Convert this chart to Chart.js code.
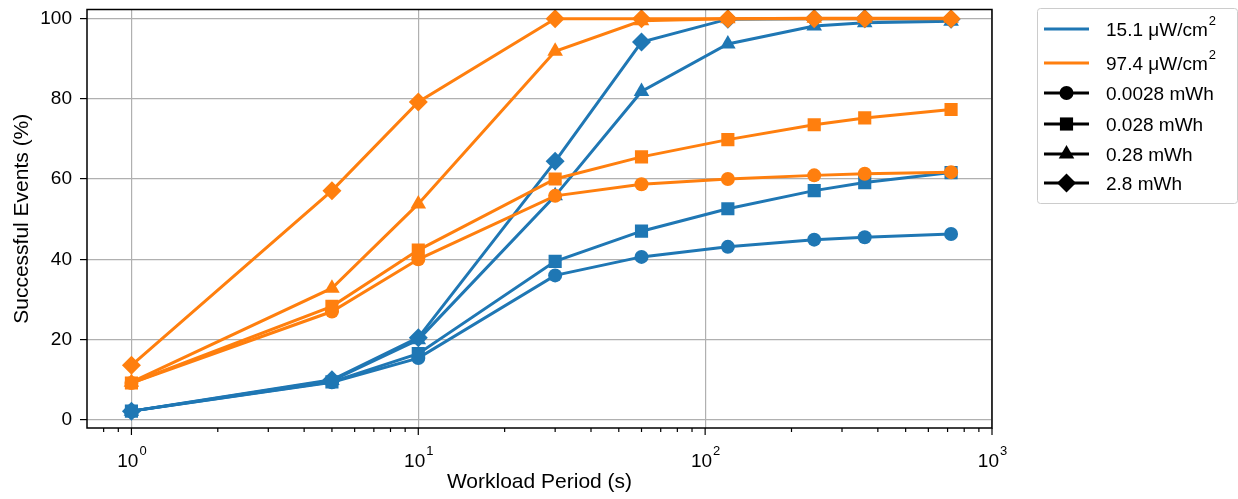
<!DOCTYPE html>
<html>
<head>
<meta charset="utf-8">
<script src="https://cdn.jsdelivr.net/npm/chart.js@4/dist/chart.umd.min.js"></script>
<style>
  html, body { margin: 0; padding: 0; background: #fff; }
  #wrap { width: 1238px; height: 499px; }
</style>
</head>
<body>
<div id="wrap"><canvas id="chart" width="1238" height="499"></canvas></div>
<script>
  // workload periods (s)
  const periods = [1, 5, 10, 30, 60, 120, 240, 360, 720];

  // 15.1 uW/cm2 series
  const low0028 = [2.2, 9.4, 15.4, 36.0, 40.6, 43.1, 44.9, 45.5, 46.3];
  const low028 = [2.2, 9.5, 16.5, 39.5, 47.0, 52.6, 57.1, 59.1, 61.6];
  const low28 = [2.2, 9.8, 20.0, 55.8, 81.8, 93.6, 98.1, 98.9, 99.3];
  const low280 = [2.2, 10.0, 20.5, 64.4, 94.1, 99.8, 99.9, 99.9, 99.8];

  // 97.4 uW/cm2 series
  const high0028 = [9.2, 27.0, 40.0, 55.8, 58.7, 60.0, 60.9, 61.3, 61.7];
  const high028 = [9.2, 28.3, 42.3, 60.0, 65.5, 69.8, 73.5, 75.2, 77.3];
  const high28 = [9.4, 32.8, 53.8, 91.8, 99.4, 99.9, 100, 100, 100];
  const high280 = [13.6, 57.1, 79.2, 99.9, 99.9, 99.9, 99.9, 99.9, 99.9];

  const powerNames = ["15.1 μW/cm", "97.4 μW/cm"];
  const energyNames = ["0.0028 mWh", "0.028 mWh", "0.28 mWh", "2.8 mWh"];
  const yTicks = [0, 20, 40, 60, 80, 100];
  const xDecades = [0, 1, 2, 3];

  const colors = ["#1f77b4", "#ff7f0e"];
  const markers = ["circle", "rect", "triangle", "rectRot"];
  const markerSize = [7, 9.3, 9, 9.5];

  const seriesByPower = [
    [low0028, low028, low28, low280],
    [high0028, high028, high28, high280]
  ];

  const FONT = "'Liberation Sans', Arial, sans-serif";

  let datasets = [];
  let n = 0;
  seriesByPower.forEach((group, p) => {
    group.forEach((vals, e) => {
      datasets.push({
        label: powerNames[p] + "2, " + energyNames[e],
        data: periods.map((x, i) => ({ x: x, y: vals[i] })),
        borderColor: colors[p],
        backgroundColor: colors[p],
        borderWidth: 3,
        pointStyle: markers[e],
        pointRadius: markerSize[e],
        pointBorderWidth: 0,
        pointHoverRadius: markerSize[e],
        tension: 0,
        order: 100 - n
      });
      n++;
    });
  });

  // draw one marker shape at (x, y)
  function marker(ctx, style, r, x, y) {
    ctx.beginPath();
    if (style === "circle") {
      ctx.arc(x, y, r, 0, Math.PI * 2);
    } else if (style === "rect") {
      const s = Math.SQRT1_2 * r;
      ctx.rect(x - s, y - s, 2 * s, 2 * s);
    } else if (style === "triangle") {
      for (let k = 0; k < 3; k++) {
        const a = k * 2 * Math.PI / 3;
        const px = x + Math.sin(a) * r, py = y - Math.cos(a) * r;
        k === 0 ? ctx.moveTo(px, py) : ctx.lineTo(px, py);
      }
      ctx.closePath();
    } else {
      ctx.moveTo(x, y - r); ctx.lineTo(x + r, y); ctx.lineTo(x, y + r); ctx.lineTo(x - r, y);
      ctx.closePath();
    }
    ctx.fill();
  }

  const extras = {
    id: "extras",
    afterDraw(chart) {
      const ctx = chart.ctx;
      const a = chart.chartArea;
      const xs = chart.scales.x;
      ctx.save();

      // x tick marks, major and minor
      ctx.strokeStyle = "#000";
      ctx.lineWidth = 1.2;
      xs.ticks.forEach(t => {
        const px = xs.getPixelForValue(t.value);
        if (px < a.left - 0.5 || px > a.right + 0.5) return;
        const lg = Math.log10(t.value);
        const major = Math.abs(lg - Math.round(lg)) < 1e-6;
        ctx.beginPath();
        ctx.moveTo(px, a.bottom);
        ctx.lineTo(px, a.bottom + (major ? 7 : 4));
        ctx.stroke();
      });

      // x tick labels 10^n
      ctx.fillStyle = "#000";
      ctx.textBaseline = "alphabetic";
      ctx.textAlign = "left";
      xDecades.forEach(d => {
        const px = xs.getPixelForValue(Math.pow(10, d));
        ctx.font = "19px " + FONT;
        const w1 = ctx.measureText("10").width;
        ctx.font = "13px " + FONT;
        const w2 = ctx.measureText(String(d)).width;
        const x0 = px - (w1 + w2) / 2;
        ctx.font = "19px " + FONT;
        ctx.fillText("10", x0, 467);
        ctx.font = "13px " + FONT;
        ctx.fillText(String(d), x0 + w1 + 1, 455);
      });

      // frame
      ctx.lineWidth = 1.5;
      ctx.strokeStyle = "#000";
      ctx.strokeRect(a.left, a.top, a.right - a.left, a.bottom - a.top);

      // legend
      const bx = 1037, by = 8, bw = 200, bh = 195;
      ctx.fillStyle = "rgba(255,255,255,0.8)";
      ctx.strokeStyle = "#cccccc";
      ctx.lineWidth = 1;
      ctx.beginPath();
      ctx.roundRect(bx + 0.5, by + 0.5, bw, bh, 3);
      ctx.fill();
      ctx.stroke();

      const rows = [29, 63, 93, 124, 154, 183];
      const lx0 = 1044, lx1 = 1089, tx = 1106;
      ctx.lineWidth = 3;
      for (let i = 0; i < 6; i++) {
        const cy = rows[i];
        const col = i < 2 ? colors[i] : "#000";
        ctx.strokeStyle = col;
        ctx.beginPath();
        ctx.moveTo(lx0, cy);
        ctx.lineTo(lx1, cy);
        ctx.stroke();
        ctx.fillStyle = col;
        if (i >= 2) marker(ctx, markers[i - 2], markerSize[i - 2], (lx0 + lx1) / 2, cy);
        ctx.fillStyle = "#000";
        ctx.font = "19px " + FONT;
        if (i < 2) {
          ctx.fillText(powerNames[i], tx, cy + 7);
          const w = ctx.measureText(powerNames[i]).width;
          ctx.font = "13px " + FONT;
          ctx.fillText("2", tx + w + 1, cy - 4);
        } else {
          ctx.fillText(energyNames[i - 2], tx, cy + 7);
        }
      }
      ctx.restore();
    }
  };

  new Chart(document.getElementById("chart").getContext("2d"), {
    type: "line",
    data: { datasets: datasets },
    options: {
      responsive: false,
      animation: false,
      events: [],
      layout: { padding: { left: 0, right: 246, top: 7, bottom: 0 } },
      plugins: { legend: { display: false }, tooltip: { enabled: false } },
      scales: {
        x: {
          type: "logarithmic",
          min: 0.716,
          max: 1000,
          afterBuildTicks(scale) {
            const t = [];
            for (let d = -1; d <= 2; d++) {
              for (let m = 1; m <= 9; m++) {
                const v = m * Math.pow(10, d);
                if (v >= 0.716 && v <= 1000) t.push({ value: v });
              }
            }
            t.push({ value: 1000 });
            scale.ticks = t;
          },
          afterFit(scale) {
            scale.height = 71;
            scale.paddingLeft = 0;
            scale.paddingRight = 0;
          },
          ticks: { display: false },
          border: { display: false },
          grid: {
            drawTicks: false,
            lineWidth: 1.2,
            color: ctx => {
              const v = ctx.tick ? ctx.tick.value : 0;
              const lg = Math.log10(v);
              return Math.abs(lg - Math.round(lg)) < 1e-6 ? "#b0b0b0" : "rgba(0,0,0,0)";
            }
          },
          title: {
            display: true,
            text: "Workload Period (s)",
            color: "#000",
            font: { family: FONT, size: 21 },
            padding: { top: 0, bottom: 4 }
          }
        },
        y: {
          min: -2,
          max: 102.2,
          afterBuildTicks(scale) { scale.ticks = yTicks.map(v => ({ value: v })); },
          afterFit(scale) {
            scale.width = 87;
            scale.paddingTop = 0;
            scale.paddingBottom = 0;
          },
          border: { display: false },
          grid: {
            color: "#b0b0b0",
            lineWidth: 1.2,
            drawTicks: true,
            tickLength: 7,
            tickColor: "#000",
            tickWidth: 1.2
          },
          ticks: {
            color: "#000",
            padding: 8,
            font: { family: FONT, size: 19 }
          },
          title: {
            display: true,
            text: "Successful Events (%)",
            color: "#000",
            font: { family: FONT, size: 21 },
            padding: { top: 10, bottom: 0 }
          }
        }
      }
    },
    plugins: [extras]
  });
</script>
</body>
</html>
